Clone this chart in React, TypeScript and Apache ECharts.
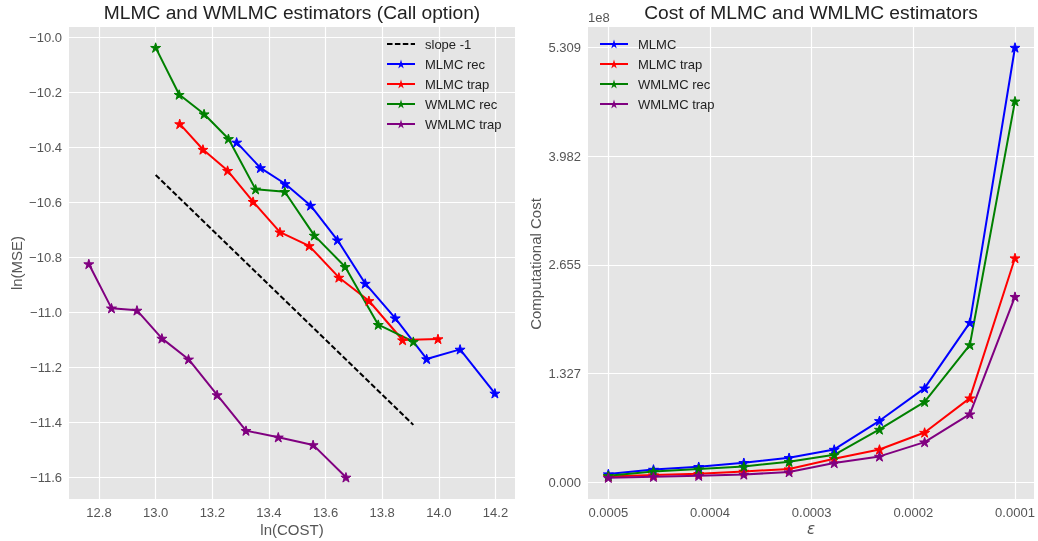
import React, { useEffect, useRef } from 'react';
import * as echarts from 'echarts';

// ---------- Left panel data: ln(COST) vs ln(MSE) ----------
const lnCostMlmcRec = [13.286, 13.370, 13.457, 13.547, 13.642, 13.740, 13.846, 13.957, 14.075, 14.198];
const lnMseMlmcRec = [-10.381, -10.474, -10.532, -10.611, -10.737, -10.895, -11.021, -11.170, -11.135, -11.295];
const lnCostMlmcTrap = [13.085, 13.167, 13.254, 13.344, 13.439, 13.542, 13.647, 13.753, 13.872, 13.997];
const lnMseMlmcTrap = [-10.314, -10.407, -10.484, -10.597, -10.708, -10.758, -10.873, -10.958, -11.101, -11.097];
const lnCostWmlmcRec = [13.000, 13.083, 13.171, 13.257, 13.353, 13.456, 13.560, 13.669, 13.786, 13.910];
const lnMseWmlmcRec = [-10.036, -10.207, -10.278, -10.368, -10.552, -10.561, -10.720, -10.834, -11.045, -11.107];
const lnCostWmlmcTrap = [12.764, 12.844, 12.934, 13.022, 13.116, 13.217, 13.319, 13.433, 13.556, 13.672];
const lnMseWmlmcTrap = [-10.824, -10.985, -10.993, -11.095, -11.171, -11.301, -11.431, -11.455, -11.483, -11.601];
const slopeX = [13.0, 13.91];
const slopeY = [-10.5, -11.41];
const lnCostTicks = [12.8, 13.0, 13.2, 13.4, 13.6, 13.8, 14.0, 14.2];
const lnMseTicks = [-10.0, -10.2, -10.4, -10.6, -10.8, -11.0, -11.2, -11.4, -11.6];

// ---------- Right panel data: epsilon vs cost (in units of 1e8) ----------
const epsilon = [0.0005, 0.0004556, 0.0004111, 0.0003667, 0.0003222, 0.0002778, 0.0002333, 0.0001889, 0.0001444, 0.0001];
const costMlmc = [0.100, 0.156, 0.189, 0.238, 0.299, 0.400, 0.750, 1.149, 1.949, 5.309];
const costMlmcTrap = [0.071, 0.088, 0.104, 0.132, 0.161, 0.287, 0.400, 0.607, 1.027, 2.738];
const costWmlmcRec = [0.079, 0.132, 0.161, 0.193, 0.250, 0.335, 0.644, 0.982, 1.677, 4.653];
const costWmlmcTrap = [0.055, 0.067, 0.079, 0.095, 0.124, 0.234, 0.315, 0.490, 0.832, 2.266];
const epsTicks = [0.0005, 0.0004, 0.0003, 0.0002, 0.0001];
const costTicks = [0, 1.327, 2.655, 3.982, 5.309];

const FONT = '"Liberation Sans", Arial, sans-serif';
const TICK_COLOR = '#555555';
const TEXT_COLOR = '#222222';

function starPath(): string {
  const pts: string[] = [];
  for (let i = 0; i < 10; i++) {
    const a = -Math.PI / 2 + (i * Math.PI) / 5;
    const r = i % 2 === 0 ? 10 : 3.82;
    pts.push(`${(10 + r * Math.cos(a)).toFixed(3)} ${(10 + r * Math.sin(a)).toFixed(3)}`);
  }
  return 'path://M' + pts.join(' L') + ' Z';
}
const STAR = starPath();

function zip(xs: number[], ys: number[]) {
  return xs.map((x, i) => [x, ys[i]]);
}

function minusFmt(v: number, d: number) {
  const s = Math.abs(v).toFixed(d);
  return v < 0 ? '\u2212' + s : s;
}

function lineSeries(name: string, color: string, data: number[][], axisIndex: number) {
  return {
    type: 'line',
    name,
    xAxisIndex: axisIndex,
    yAxisIndex: axisIndex,
    data,
    symbol: STAR,
    symbolSize: 10,
    symbolKeepAspect: true,
    showAllSymbol: true,
    lineStyle: { color, width: 2 },
    itemStyle: { color, borderColor: color, borderWidth: 1 },
    emphasis: { disabled: true },
  };
}

export default function App() {
  const ref = useRef<HTMLDivElement>(null);
  useEffect(() => {
    const chart = echarts.init(ref.current!, null, { renderer: 'svg' });
    const gridCommon = {
      show: true,
      backgroundColor: '#E5E5E5',
      borderWidth: 0,
      containLabel: false,
    };
    const splitLine = { show: true, lineStyle: { color: '#ffffff', width: 1.2 } };
    const legendCommon = {
      orient: 'vertical',
      padding: 0,
      itemWidth: 28,
      itemHeight: 11,
      itemGap: 6,
      selectedMode: false,
      itemStyle: { borderWidth: 0 },
      textStyle: { fontSize: 13, lineHeight: 14, color: TEXT_COLOR, fontFamily: FONT, padding: [0, 0, 0, 5] },
    };
    const option: any = {
      animation: false,
      textStyle: { fontFamily: FONT },
      grid: [
        { ...gridCommon, left: 69, top: 27, width: 446, height: 472 },
        { ...gridCommon, left: 588, top: 27, width: 446, height: 472 },
      ],
      xAxis: [
        {
          type: 'value',
          gridIndex: 0,
          min: 12.694,
          max: 14.269,
          axisLine: { show: false },
          axisTick: { show: false, customValues: lnCostTicks },
          axisLabel: {
            customValues: lnCostTicks,
            formatter: (v: number) => v.toFixed(1),
            color: TICK_COLOR,
            fontSize: 13,
            margin: 7,
            fontFamily: FONT,
          },
          splitLine,
        },
        {
          type: 'value',
          gridIndex: 1,
          inverse: true,
          min: 0.0000813,
          max: 0.00052,
          axisLine: { show: false },
          axisTick: { show: false, customValues: epsTicks },
          axisLabel: {
            customValues: epsTicks,
            formatter: (v: number) => v.toFixed(4),
            color: TICK_COLOR,
            fontSize: 13,
            margin: 7,
            fontFamily: FONT,
          },
          splitLine,
        },
      ],
      yAxis: [
        {
          type: 'value',
          gridIndex: 0,
          min: -11.68,
          max: -9.961,
          axisLine: { show: false },
          axisTick: { show: false, customValues: lnMseTicks },
          axisLabel: {
            customValues: lnMseTicks,
            formatter: (v: number) => minusFmt(v, 1),
            color: TICK_COLOR,
            fontSize: 13,
            margin: 7,
            fontFamily: FONT,
          },
          splitLine,
        },
        {
          type: 'value',
          gridIndex: 1,
          min: -0.205,
          max: 5.559,
          axisLine: { show: false },
          axisTick: { show: false, customValues: costTicks },
          axisLabel: {
            customValues: costTicks,
            formatter: (v: number) => v.toFixed(3),
            color: TICK_COLOR,
            fontSize: 13,
            margin: 7,
            fontFamily: FONT,
          },
          splitLine,
        },
      ],
      legend: [
        {
          ...legendCommon,
          left: 386,
          top: 37,
          data: [
            { name: 'slope -1', itemStyle: { opacity: 0 } },
            'MLMC rec',
            'MLMC trap',
            'WMLMC rec',
            'WMLMC trap',
          ],
        },
        {
          ...legendCommon,
          left: 599,
          top: 37,
          data: ['MLMC', 'MLMC trap', 'WMLMC rec', 'WMLMC trap'],
        },
      ],
      series: [
        {
          type: 'line',
          name: 'slope -1',
          xAxisIndex: 0,
          yAxisIndex: 0,
          data: zip(slopeX, slopeY),
          symbol: 'none',
          lineStyle: { color: '#000000', width: 2, type: [5.5, 2.4] },
          itemStyle: { color: '#000000' },
          emphasis: { disabled: true },
        },
        lineSeries('MLMC rec', '#0000ff', zip(lnCostMlmcRec, lnMseMlmcRec), 0),
        lineSeries('MLMC trap', '#ff0000', zip(lnCostMlmcTrap, lnMseMlmcTrap), 0),
        lineSeries('WMLMC rec', '#008000', zip(lnCostWmlmcRec, lnMseWmlmcRec), 0),
        lineSeries('WMLMC trap', '#800080', zip(lnCostWmlmcTrap, lnMseWmlmcTrap), 0),
        lineSeries('MLMC', '#0000ff', zip(epsilon, costMlmc), 1),
        lineSeries('MLMC trap', '#ff0000', zip(epsilon, costMlmcTrap), 1),
        lineSeries('WMLMC rec', '#008000', zip(epsilon, costWmlmcRec), 1),
        lineSeries('WMLMC trap', '#800080', zip(epsilon, costWmlmcTrap), 1),
      ],
      graphic: [
        {
          type: 'text', x: 292, y: 12.5,
          style: { text: 'MLMC and WMLMC estimators (Call option)', fill: TEXT_COLOR, fontSize: 19.2, fontFamily: FONT, align: 'center', verticalAlign: 'middle' },
        },
        {
          type: 'text', x: 811, y: 12.5,
          style: { text: 'Cost of MLMC and WMLMC estimators', fill: TEXT_COLOR, fontSize: 19.2, fontFamily: FONT, align: 'center', verticalAlign: 'middle' },
        },
        {
          type: 'text', x: 292, y: 529,
          style: { text: 'ln(COST)', fill: TICK_COLOR, fontSize: 15, fontFamily: FONT, align: 'center', verticalAlign: 'middle' },
        },
        {
          type: 'text', x: 16, y: 263, rotation: Math.PI / 2,
          style: { text: 'ln(MSE)', fill: TICK_COLOR, fontSize: 15, fontFamily: FONT, align: 'center', verticalAlign: 'middle' },
        },
        {
          type: 'text', x: 535, y: 264, rotation: Math.PI / 2,
          style: { text: 'Computational Cost', fill: TICK_COLOR, fontSize: 15, fontFamily: FONT, align: 'center', verticalAlign: 'middle' },
        },
        {
          type: 'text', x: 811, y: 529,
          style: { text: 'ε', fill: TICK_COLOR, fontSize: 15, fontFamily: '"DejaVu Sans"', fontStyle: 'italic', align: 'center', verticalAlign: 'middle' },
        },
        {
          type: 'text', x: 588, y: 17,
          style: { text: '1e8', fill: TICK_COLOR, fontSize: 13, fontFamily: FONT, align: 'left', verticalAlign: 'middle' },
        },
      ],
    };
    chart.setOption(option);
    return () => chart.dispose();
  }, []);
  return <div ref={ref} style={{ position: 'fixed', left: 0, top: 0, width: 1038, height: 541 }} />;
}
